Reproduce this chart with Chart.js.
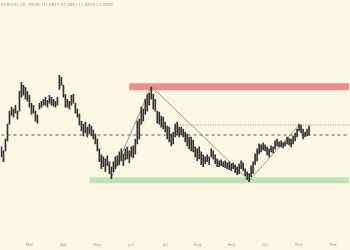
<!DOCTYPE html>
<html>
<head>
<meta charset="utf-8">
<script src="https://cdn.jsdelivr.net/npm/chart.js@4.4.1/dist/chart.umd.min.js"></script>
<style>
  html, body { margin: 0; padding: 0; background: #fbf8e4; overflow: hidden; }
  canvas { display: block; }
</style>
</head>
<body>
<canvas id="myChart" width="350" height="250"></canvas>
<script>
// daily high / low of each bar (price points)
var highs = [102, 98, 110, 125, 138, 142, 140, 144, 138, 158,
    167, 164, 162, 158, 154, 146, 144, 138, 134, 146,
    148, 150, 152, 149, 154, 152, 150, 148, 152, 174,
    172, 164, 155, 150, 148, 154, 155, 146, 140, 135,
    128, 125, 127, 122, 125, 123, 119, 115, 110, 100,
    94, 92, 90, 93, 87, 82, 87, 92, 93, 97,
    100, 95, 100, 102, 98, 102, 103, 110, 128, 130,
    142, 140, 150, 155, 156, 162, 155, 150, 138, 137,
    133, 132, 127, 123, 122, 115, 117, 125, 127, 122,
    122, 120, 117, 115, 112, 112, 109, 102, 100, 102,
    97, 94, 92, 94, 92, 100, 98, 94, 90, 88,
    89, 87, 88, 86, 87, 85, 86, 84, 82, 85,
    88, 86, 80, 77, 75, 83, 87, 95, 100, 105,
    104, 106, 104, 102, 100, 103, 102, 108, 110, 107,
    108, 106, 107, 112, 111, 110, 113, 116, 120, 125,
    124, 120, 117, 120, 123];
var lows = [92, 87, 98, 108, 125, 134, 132, 136, 130, 138,
    152, 154, 150, 148, 142, 135, 136, 128, 126, 140,
    142, 144, 144, 142, 146, 144, 143, 142, 144, 160,
    164, 152, 142, 142, 140, 144, 146, 136, 132, 124,
    118, 113, 116, 112, 115, 113, 110, 105, 98, 87,
    80, 82, 77, 83, 75, 70, 77, 80, 83, 84,
    88, 83, 89, 90, 86, 92, 91, 95, 105, 110,
    125, 128, 135, 138, 144, 150, 140, 138, 126, 125,
    122, 120, 117, 110, 107, 103, 105, 112, 114, 112,
    114, 112, 107, 103, 100, 98, 97, 92, 88, 90,
    84, 82, 85, 87, 84, 92, 90, 85, 82, 82,
    83, 82, 81, 80, 79, 78, 80, 76, 74, 75,
    80, 78, 73, 69, 67, 72, 75, 84, 88, 95,
    97, 99, 98, 94, 92, 97, 96, 100, 103, 102,
    102, 101, 103, 105, 104, 102, 105, 108, 112, 118,
    116, 110, 112, 113, 114];
var futureBars = 20;

// month labels and the bar index where each one sits
var monthLabels = ['Mar', 'Apr', 'May', 'Jun', 'Jul', 'Aug', 'Sep', 'Oct', 'Nov', 'Dec'];
var monthStarts = [14, 31, 48, 65, 82, 98, 115, 132, 149, 166];

// drawn levels and swing points
var resistance = 162.5;   // red zone
var support = 68.5;       // green zone
var pivotLevel = 114;     // dashed
var swingHigh = 124;      // dotted
var swingIdx = [55, 75, 124, 149];
var swingVals = [71, 163, 68, 124];

var header = 'EURUSD, 1D, FXCM  O1.0837 H1.0861 L1.0829 C1.0852';

var total = highs.length + futureBars;
var labels = [];
for (var i = 0; i < total; i++) labels.push(String(i));

var bars = highs.map(function(h, i) { return [lows[i], h]; });

function segment(from, to, value) {
    var arr = new Array(total).fill(null);
    arr[from] = value;
    arr[to] = value;
    return arr;
}
var swing = new Array(total).fill(null);
swingIdx.forEach(function(idx, k) { swing[idx] = swingVals[k]; });

var bg = {
    id: 'bg',
    beforeDraw: function(chart) {
        var ctx = chart.ctx;
        ctx.save();
        ctx.fillStyle = '#fbf8e4';
        ctx.fillRect(0, 0, chart.width, chart.height);
        ctx.restore();
    },
    afterDraw: function(chart) {
        var ctx = chart.ctx;
        ctx.save();
        ctx.font = '4px "DejaVu Sans"';
        ctx.fillStyle = '#999';
        ctx.textBaseline = 'middle';
        ctx.fillText(header, 1, 5);
        ctx.restore();
    }
};

var ctx = document.getElementById('myChart').getContext('2d');
var myChart = new Chart(ctx, {
    type: 'bar',
    data: {
        labels: labels,
        datasets: [{
            type: 'line',
            data: segment(64, total - 1, resistance),
            borderColor: '#f28c8c',
            borderWidth: 7,
            borderCapStyle: 'butt',
            pointRadius: 0,
            spanGaps: true,
            order: 5
        }, {
            type: 'line',
            data: segment(44, total - 1, support),
            borderColor: '#bfe2b4',
            borderWidth: 6,
            borderCapStyle: 'butt',
            pointRadius: 0,
            spanGaps: true,
            order: 5
        }, {
            type: 'line',
            data: segment(0, total - 1, pivotLevel),
            borderColor: '#555',
            borderWidth: 1,
            borderDash: [3, 3],
            pointRadius: 0,
            spanGaps: true,
            order: 4
        }, {
            type: 'line',
            data: segment(87, total - 1, swingHigh),
            borderColor: '#666',
            borderWidth: 0.8,
            borderDash: [1, 1.5],
            pointRadius: 0,
            spanGaps: true,
            order: 4
        }, {
            type: 'line',
            data: swing,
            borderColor: '#8f9c86',
            borderWidth: 1,
            pointRadius: 0,
            spanGaps: true,
            tension: 0,
            order: 3
        }, {
            data: bars,
            backgroundColor: '#333',
            barThickness: 1,
            order: 1
        }]
    },
    options: {
        responsive: false,
        animation: false,
        layout: { padding: { left: 0.5, right: 0, top: 0, bottom: 2 } },
        plugins: {
            legend: { display: false },
            tooltip: { enabled: false }
        },
        scales: {
            x: {
                grid: { display: false, drawTicks: false },
                border: { display: false },
                ticks: {
                    autoSkip: false,
                    maxRotation: 0,
                    padding: 1,
                    color: '#999',
                    font: { size: 4, family: 'DejaVu Sans' },
                    callback: function(v, i) {
                        var k = monthStarts.indexOf(i);
                        return k >= 0 ? monthLabels[k] : '';
                    }
                }
            },
            y: {
                display: false,
                min: 7,
                max: 250
            }
        }
    },
    plugins: [bg]
});
</script>
</body>
</html>
